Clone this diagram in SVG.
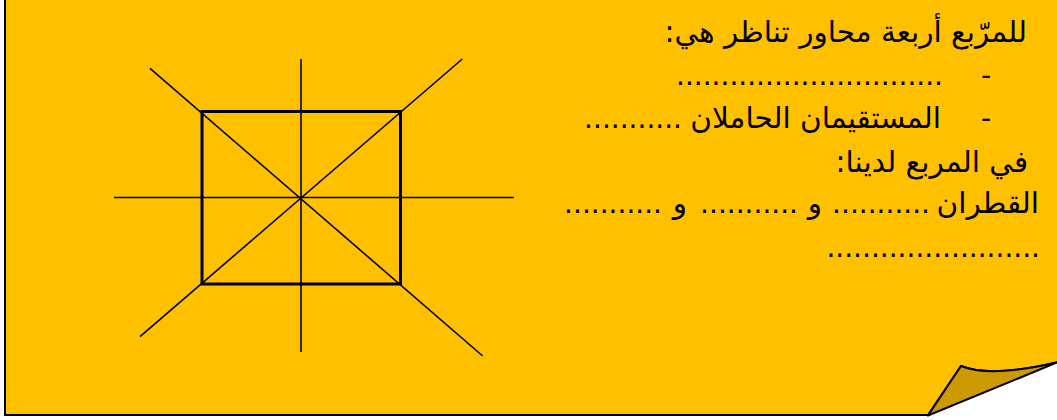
<svg xmlns="http://www.w3.org/2000/svg" width="1057" height="420" viewBox="0 0 1057 420">
  <style>
    .t { font-family: "DejaVu Sans", "Noto Sans", sans-serif; font-size: 29.5px; fill: #000; }
    .d { font-size: 28px; }
    .rtl { direction: rtl; unicode-bidi: embed; text-anchor: start; }
    .thin { stroke: #000; stroke-width: 1.6; fill: none; stroke-linecap: butt; }
  </style>
  <rect x="0" y="0" width="1057" height="420" fill="#FFFFFF"/>
  <g id="page">
    <path d="M5,-5 L5,415 L928,415 L961,366 Q990,378 1058,362 L1058,-5 Z" fill="#FFC000" stroke="#000" stroke-width="2"/>
    <path d="M928,415.5 L961,366 Q990,378 1057,362.5 Z" fill="#CC9A00" stroke="#000" stroke-width="2" stroke-linejoin="round"/>
  </g>
  <g id="figure">
    <line class="thin" x1="301" y1="59" x2="301" y2="352"/>
    <line class="thin" x1="114" y1="197.5" x2="514" y2="197.5"/>
    <line class="thin" x1="150" y1="68.3" x2="482.7" y2="356"/>
    <line class="thin" x1="462.3" y1="59" x2="140" y2="336.7"/>
    <rect x="202" y="111.5" width="198.5" height="172.5" fill="none" stroke="#000" stroke-width="3"/>
  </g>
  <g id="text">
    <text class="t rtl" x="1027" y="42">للمرّبع أربعة محاور تناظر هي:</text>
    <text class="t d" x="981" y="85">-</text>
    <text class="t d rtl" x="943" y="85">..............................</text>
    <text class="t d" x="981" y="128">-</text>
    <text class="t rtl" x="941" y="128">المستقيمان الحاملان</text>
    <text class="t d rtl" x="682" y="128">...........</text>
    <text class="t rtl" x="1028" y="172"> في المربع لدينا:</text>
    <text class="t rtl" x="1039" y="213">القطران</text>
    <text class="t d rtl" x="930" y="213">...........</text>
    <text class="t rtl" x="822" y="213">و</text>
    <text class="t d rtl" x="798" y="213">...........</text>
    <text class="t rtl" x="687" y="213">و</text>
    <text class="t d rtl" x="662" y="213">...........</text>
    <text class="t d rtl" x="1040" y="257">........................</text>
  </g>
</svg>
